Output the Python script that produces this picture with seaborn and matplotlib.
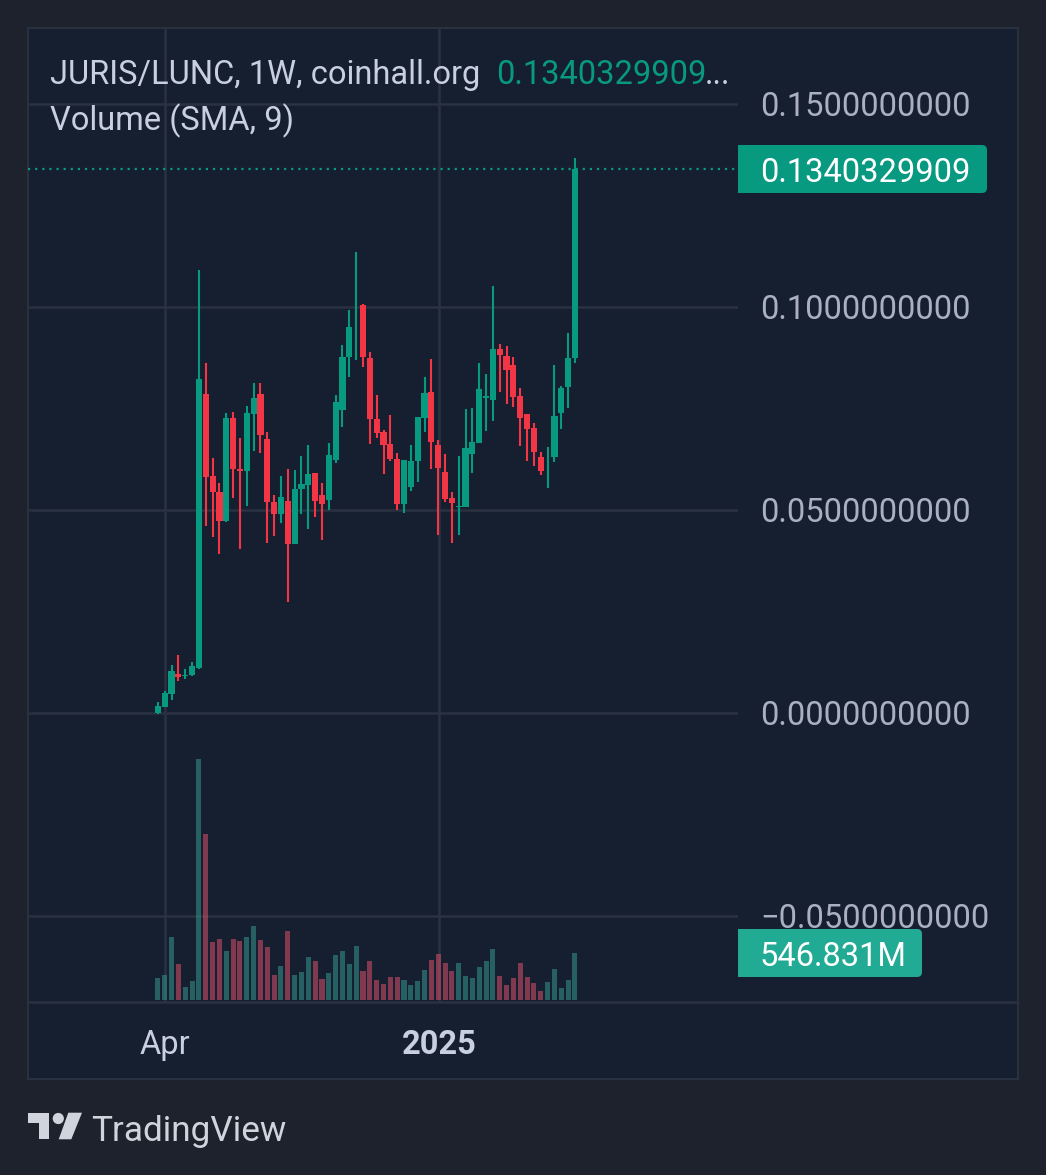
import numpy as np
import pandas as pd
import matplotlib
matplotlib.use("Agg")
import matplotlib.pyplot as plt
from matplotlib.patches import FancyBboxPatch, Polygon, Circle, Rectangle
import seaborn as sns

opens = [0.0000,0.0015,0.0047,0.0097,0.0092,0.0093,0.0111,0.0786,0.0584,0.0545,0.0472,0.0727,0.0601,0.0596,0.0736,0.0786,0.0675,0.0520,0.0490,0.0522,0.0416,0.0551,0.0561,0.0591,0.0537,0.0524,0.0623,0.0746,0.0876,0.0968,0.1005,0.0874,0.0725,0.0692,0.0662,0.0625,0.0515,0.0557,0.0621,0.0726,0.0791,0.0660,0.0594,0.0530,0.0507,0.0507,0.0638,0.0665,0.0776,0.0771,0.0897,0.0879,0.0857,0.0781,0.0736,0.0702,0.0630,0.0606,0.0631,0.0739,0.0803,0.0874]
closes = [0.0017,0.0050,0.0103,0.0088,0.0094,0.0116,0.0823,0.0582,0.0545,0.0472,0.0727,0.0601,0.0595,0.0739,0.0776,0.0685,0.0520,0.0490,0.0532,0.0416,0.0551,0.0564,0.0589,0.0522,0.0515,0.0635,0.0766,0.0877,0.0951,0.0968,0.0877,0.0724,0.0690,0.0660,0.0626,0.0515,0.0623,0.0620,0.0729,0.0788,0.0667,0.0604,0.0527,0.0517,0.0509,0.0653,0.0668,0.0798,0.0782,0.0897,0.0882,0.0845,0.0778,0.0727,0.0699,0.0643,0.0597,0.0606,0.0731,0.0801,0.0874,0.1340329909]
highs = [0.0027,0.0055,0.0118,0.0143,0.0108,0.0126,0.1091,0.0862,0.0628,0.0566,0.0739,0.0741,0.0677,0.0757,0.0813,0.0813,0.0692,0.0537,0.0584,0.0601,0.0599,0.0633,0.0660,0.0591,0.0566,0.0665,0.0783,0.0906,0.0993,0.1135,0.1007,0.0889,0.0783,0.0697,0.0734,0.0640,0.0606,0.0660,0.0729,0.0828,0.0872,0.0672,0.0638,0.0544,0.0633,0.0749,0.0751,0.0862,0.0835,0.1051,0.0909,0.0904,0.0877,0.0801,0.0736,0.0714,0.0643,0.0655,0.0857,0.0806,0.0936,0.1367]
lows = [-0.0002,0.0015,0.0032,0.0078,0.0084,0.0092,0.0108,0.0461,0.0434,0.0392,0.0471,0.0530,0.0404,0.0510,0.0646,0.0641,0.0419,0.0437,0.0468,0.0273,0.0416,0.0490,0.0453,0.0483,0.0426,0.0500,0.0616,0.0705,0.0828,0.0870,0.0853,0.0663,0.0677,0.0589,0.0621,0.0500,0.0493,0.0547,0.0569,0.0692,0.0601,0.0438,0.0519,0.0419,0.0438,0.0507,0.0591,0.0665,0.0695,0.0719,0.0791,0.0761,0.0754,0.0658,0.0621,0.0609,0.0586,0.0554,0.0618,0.0700,0.0751,0.0862]
volumes_m = [256,291,733,419,151,221,2804,1931,675,710,570,710,686,733,861,698,617,291,396,803,291,326,500,454,244,314,524,570,419,628,337,454,233,186,268,268,233,175,221,349,465,535,430,337,430,279,256,384,454,593,279,175,256,430,268,198,105,209,361,140,233,546.831]
price_ticks = [0.15,0.10,0.05,0.0,-0.05]
price_labels = ["0.1500000000","0.1000000000","0.0500000000","0.0000000000","\u22120.0500000000"]
x_ticks = [1,41.1]
x_labels = ["Apr","2025"]
TITLE = "JURIS/LUNC, 1W, coinhall.org"
LAST = "0.1340329909"
LAST_VOL = "546.831M"

PAGE = "#1e222d"; PANEL = "#161f30"; GRID = "#2a3242"; BORDER = "#2a3140"
UP = "#089981"; DOWN = "#f23645"; TXT = "#aab0bf"; TXT2 = "#c8cfde"
VUP = "#26a69a"; VDN = "#f2395b"

sns.set_theme(style="dark", rc={"axes.grid": False})
plt.rcParams["font.family"] = ["Roboto", "DejaVu Sans"]

W, H = 1046, 1175
fig = plt.figure(figsize=(W/100, H/100), dpi=100, facecolor=PAGE)

bg = fig.add_axes([0, 0, 1, 1], zorder=0)
bg.set_xlim(0, W); bg.set_ylim(H, 0); bg.axis("off")
bg.add_patch(Rectangle((28, 28), 990, 1051, fc=PANEL, ec=BORDER, lw=1.4))

def frame(top, bottom, left=28, right=738):
    return [left/W, 1-bottom/H, (right-left)/W, (bottom-top)/H]

n = len(closes)
idx = np.arange(n)
xl = (-19.0, 84.85)
PX = 4060.0

vol = fig.add_axes(frame(28, 1002), zorder=3)
vol.patch.set_visible(False)
df = pd.DataFrame({"i": idx, "v": volumes_m, "dir": np.where(np.array(closes) >= np.array(opens), "up", "dn")})
sns.barplot(data=df, x="i", y="v", hue="dir", native_scale=True, dodge=False,
            palette={"up": VUP, "dn": VDN}, alpha=0.55, width=0.74, linewidth=0, legend=False, ax=vol)
vol.set_xlim(*xl)
vol.set_ylim(-2*11.635, 972*11.635)
vol.axis("off")

ax = fig.add_axes(frame(28, 1002), zorder=2)
ax.patch.set_visible(False)
ax.set_xlim(*xl)
ax.set_ylim((713-1002)/PX, (713-28)/PX)
for s in ax.spines.values():
    s.set_visible(False)
ax.set_xticks(x_ticks); ax.set_yticks(price_ticks)
ax.tick_params(length=0, labelbottom=False, labelleft=False)
ax.grid(True, color=GRID, lw=1.8)
ax.set_axisbelow(True)

colors = [UP if c >= o else DOWN for o, c in zip(opens, closes)]
wick = pd.DataFrame({"i": np.repeat(idx, 2), "p": np.ravel(np.column_stack([lows, highs])),
                     "dir": np.repeat(np.where(np.array(closes) >= np.array(opens), "up", "dn"), 2)})
sns.lineplot(data=wick, x="i", y="p", hue="dir", units="i", estimator=None,
             palette={"up": UP, "dn": DOWN}, lw=1.5, legend=False, ax=ax, zorder=4, solid_capstyle="butt")
ax.bar(idx, np.array(closes)-np.array(opens), bottom=opens, width=0.9, color=colors, lw=0, zorder=5)
ax.set_xlabel(""); ax.set_ylabel("")
ax.set_xlim(*xl)
ax.set_ylim((713-1002)/PX, (713-28)/PX)
ax.axhline(closes[-1], color=UP, lw=1.6, ls=(0, (1, 2.2)), zorder=3)

top = fig.add_axes([0, 0, 1, 1], zorder=5)
top.set_xlim(0, W); top.set_ylim(H, 0); top.axis("off")
top.plot([28, 1018], [1002, 1002], color=GRID, lw=1.8, zorder=1)

FS = 23.5
top.text(50, 75, TITLE, color=TXT2, fontsize=FS, va="center", ha="left")
top.text(496, 75, LAST, color=UP, fontsize=FS, va="center", ha="left")
top.text(705, 75, "...", color=TXT2, fontsize=FS, va="center", ha="left")
top.text(50, 121, "Volume (SMA, 9)", color=TXT2, fontsize=FS, va="center", ha="left")

for t, lab in zip(price_ticks, price_labels):
    y = 716 - t*PX
    top.text(760, y, lab, color=TXT, fontsize=FS, va="center", ha="left")

top.add_patch(FancyBboxPatch((738, 145), 249, 48, boxstyle="round,pad=0,rounding_size=5", fc=UP, ec="none"))
top.add_patch(Rectangle((738, 145), 10, 48, fc=UP, ec="none"))
top.text(760, 173, LAST, color="white", fontsize=FS, va="center", ha="left")
top.add_patch(FancyBboxPatch((738, 929), 184, 48, boxstyle="round,pad=0,rounding_size=5", fc="#22ab94", ec="none"))
top.add_patch(Rectangle((738, 929), 10, 48, fc="#22ab94", ec="none"))
top.text(760, 957, LAST_VOL, color="white", fontsize=FS, va="center", ha="left")

top.text(165, 1045, x_labels[0], color=TXT2, fontsize=FS, va="center", ha="center")
top.text(439, 1045, x_labels[1], color=TXT2, fontsize=FS, va="center", ha="center", fontweight="bold")

LOGO = "#d1d4dc"
top.add_patch(Polygon([(28, 1112.7), (49.3, 1112.7), (49.3, 1139.3), (39.3, 1139.3), (39.3, 1123.3), (28, 1123.3)], fc=LOGO, ec="none"))
top.add_patch(Circle((58.3, 1118.5), 5.6, fc=LOGO, ec="none"))
top.add_patch(Polygon([(68.3, 1112.7), (82, 1112.7), (71.3, 1139.3), (58.7, 1139.3)], fc=LOGO, ec="none"))
top.text(91, 1132, "TradingView", color=LOGO, fontsize=25.3, va="center", ha="left")

fig.savefig("out.png", dpi=100, facecolor=PAGE)
